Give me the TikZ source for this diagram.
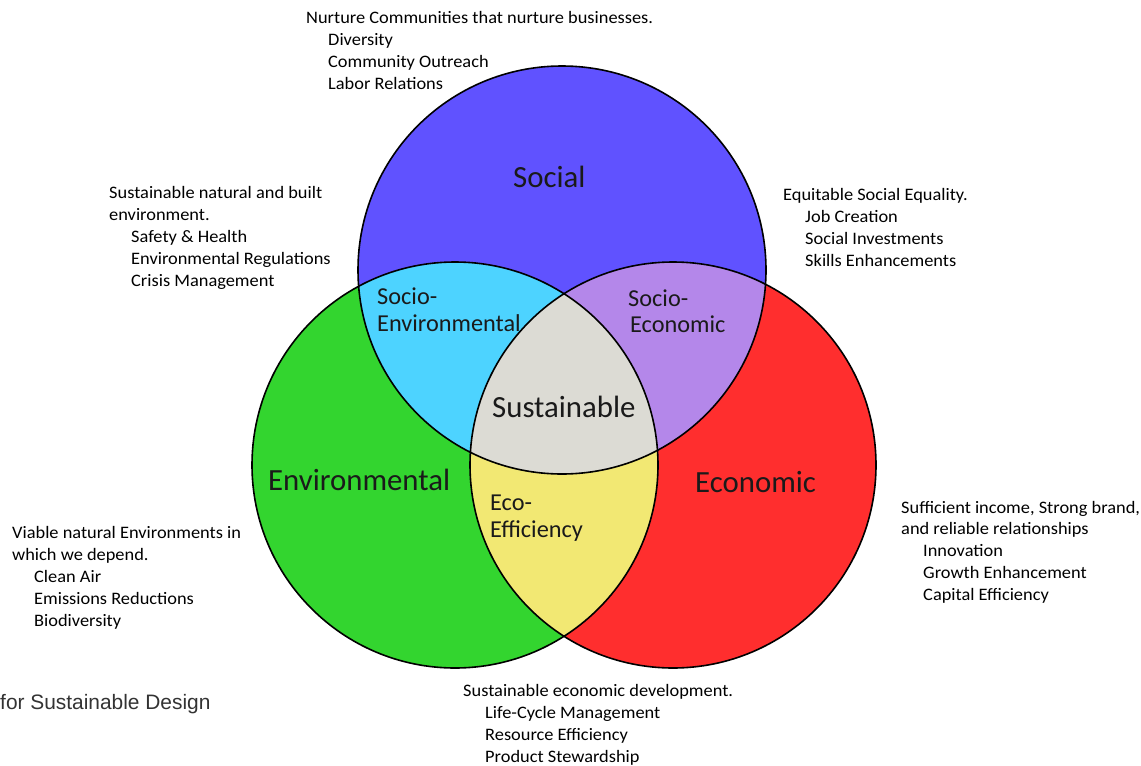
\documentclass[tikz,border=0pt]{standalone}
\usepackage{fontspec}
\setmainfont{Carlito}
\newfontfamily\bodyfont[FakeStretch=1.05]{Carlito}
\newfontfamily\arialfont{Liberation Sans}
\definecolor{socialC}{HTML}{6052FF}
\definecolor{envC}{HTML}{33D52F}
\definecolor{econC}{HTML}{FF2E2E}
\definecolor{socenvC}{HTML}{4DD3FF}
\definecolor{soceconC}{HTML}{B487EA}
\definecolor{ecoeffC}{HTML}{F2E873}
\definecolor{sustC}{HTML}{DCDBD4}
\definecolor{labelC}{HTML}{1A1A1A}
\definecolor{captionC}{HTML}{333333}
\tikzset{
  body/.style={anchor=base west, inner sep=0pt, font=\bodyfont\fontsize{17.5}{20}\selectfont, text=black},
  biglabel/.style={anchor=base west, inner sep=0pt, font=\fontsize{30.8}{34}\selectfont, text=labelC},
  smalllabel/.style={anchor=base west, inner sep=0pt, font=\fontsize{24.3}{28}\selectfont, text=labelC},
  ring/.style={draw=black, line width=1.6pt},
}
\begin{document}
\begin{tikzpicture}[x=1pt,y=-1pt]
\useasboundingbox (0,0) rectangle (1141,766);
\def\socC{(562,270) circle [radius=204pt]}
\def\envCc{(455,465) circle [radius=203pt]}
\def\ecoCc{(673,465) circle [radius=203pt]}
% base fills
\fill[socialC] \socC;
\fill[envC] \envCc;
\fill[econC] \ecoCc;
% pairwise overlaps
\begin{scope}\clip \socC; \fill[socenvC] \envCc; \end{scope}
\begin{scope}\clip \socC; \fill[soceconC] \ecoCc; \end{scope}
\begin{scope}\clip \envCc; \fill[ecoeffC] \ecoCc; \end{scope}
\begin{scope}\clip \socC; \clip \envCc; \fill[sustC] \ecoCc; \end{scope}
% outlines
\draw[ring] \socC;
\draw[ring] \envCc;
\draw[ring] \ecoCc;
% region labels
\node[biglabel] (lsocial) at (513,187) {Social};
\node[biglabel] (lenv) at (268,490) {Environmental};
\node[biglabel] (lecon) at (695,492) {Economic};
\node[biglabel] (lsust) at (492,417) {Sustainable};
\node[smalllabel] (lse1) at (377,304) {Socio-};
\node[smalllabel] (lse2) at (377,331) {Environmental};
\node[smalllabel] (lsc1) at (628,306) {Socio-};
\node[smalllabel] (lsc2) at (630,332) {Economic};
\node[smalllabel] (lee1) at (490,510) {Eco-};
\node[smalllabel] (lee2) at (490,537) {Efficiency};
% top text
\node[body] (t1) at (306,23) {Nurture Communities that nurture businesses.};
\node[body] (t2) at (328,45) {Diversity};
\node[body] (t3) at (328,67) {Community Outreach};
\node[body] (t4) at (328,89) {Labor Relations};
% left-top text
\node[body] (a1) at (109,198) {Sustainable natural and built};
\node[body] (a2) at (109,220) {environment.};
\node[body] (a3) at (131,242) {Safety \& Health};
\node[body] (a4) at (131,264) {Environmental Regulations};
\node[body] (a5) at (131,286) {Crisis Management};
% right-top text
\node[body] (b1) at (783,200) {Equitable Social Equality.};
\node[body] (b2) at (805,222) {Job Creation};
\node[body] (b3) at (805,244) {Social Investments};
\node[body] (b4) at (805,266) {Skills Enhancements};
% left-bottom text
\node[body] (c1) at (12,538) {Viable natural Environments in};
\node[body] (c2) at (12,560) {which we depend.};
\node[body] (c3) at (34,582) {Clean Air};
\node[body] (c4) at (34,604) {Emissions Reductions};
\node[body] (c5) at (34,626) {Biodiversity};
% right-bottom text
\node[body] (d1) at (901,513) {Sufficient income, Strong brand,};
\node[body] (d2) at (901,534) {and reliable relationships};
\node[body] (d3) at (923,556) {Innovation};
\node[body] (d4) at (923,578) {Growth Enhancement};
\node[body] (d5) at (923,600) {Capital Efficiency};
% bottom text
\node[body] (e1) at (463,696) {Sustainable economic development.};
\node[body] (e2) at (485,718) {Life-Cycle Management};
\node[body] (e3) at (485,740) {Resource Efficiency};
\node[body] (e4) at (485,762) {Product Stewardship};
% caption
\node[anchor=base west, inner sep=0pt, font=\arialfont\fontsize{20.9}{24}\selectfont, text=captionC] (cap) at (0,709) {for Sustainable Design};
\end{tikzpicture}
\end{document}
